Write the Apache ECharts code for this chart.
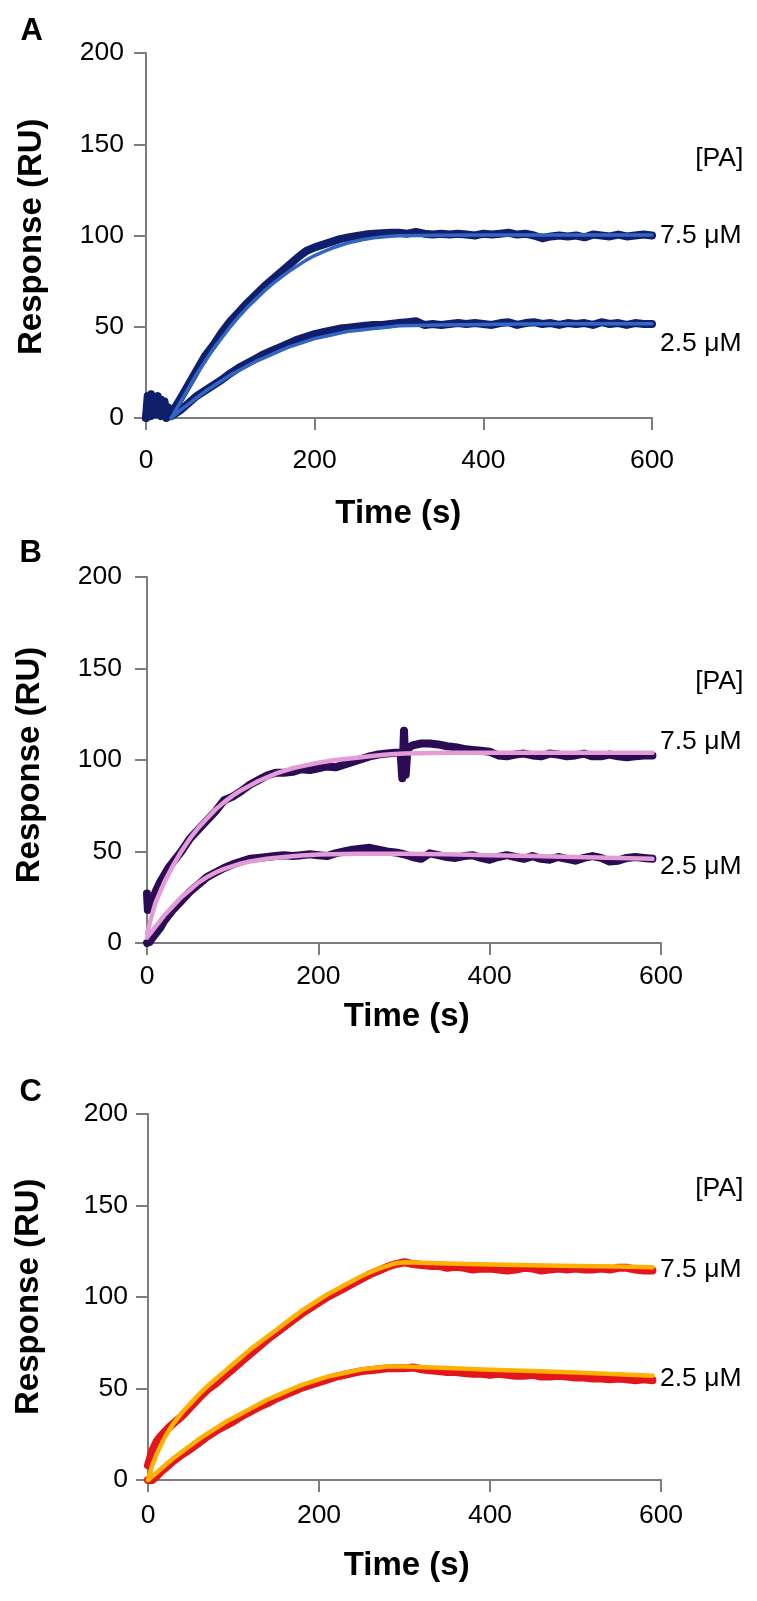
<!DOCTYPE html>
<html>
<head>
<meta charset="utf-8">
<script src="https://cdn.jsdelivr.net/npm/echarts@6/dist/echarts.min.js"></script>
<style>
html,body{margin:0;padding:0;background:#ffffff;}
#chart{width:757px;height:1601px;}
</style>
</head>
<body>
<div id="chart"></div>
<script>
// ---------- axis ranges / tick labels ----------
const xTickValues = [0, 200, 400, 600];
const yTickValues = [0, 50, 100, 150, 200];
const panelLetters = ['A', 'B', 'C'];
const concLabels = ['7.5 μM', '2.5 μM'];
const legendTitle = '[PA]';
const xTitle = 'Time (s)';
const yTitle = 'Response (RU)';

// ---------- Panel A (time s, response RU) ----------
const a75Data = [[0,0],[2,12],[4,3],[6,13],[8,2],[10,11],[12,4],[14,12],[16,3],[18,10],[20,2],[22,9],[24,2],[26,6],[28,1],
[30,2],[40,10],[50,18],[60,26],[70,34],[80,40],[90,47],[100,53],[110,58],[120,63],[130,67.5],[140,72],[150,76],[160,80],[170,84],[180,88],[190,91.5],[200,93.5],[210,95],[220,96.5],[230,98],[240,99],[250,99.8],[260,100.5],[270,101],[280,101.3],[290,101.5],
[300,101.5],[310,101],[320,102],[330,101],[340,100.5],[350,101],[360,100.5],[370,101],[380,100.5],[390,100],[400,101],
[410,100.5],[420,101],[430,101.5],[440,100.5],[450,101],[460,100],[470,98.5],[480,99.5],[490,100],[500,99.5],
[510,100],[520,99],[530,100.5],[540,100],[550,99.5],[560,100.5],[570,99.5],[580,100],[590,100.5],[600,100]];
const a75Fit = [[30,0],[40,8],[50,16],[60,24],[70,31],[80,38],[90,44],[100,50],[110,55.5],[120,60.5],[130,65],[140,69.5],[150,73.5],[160,77],[170,80.5],[180,83.5],[190,86.5],[200,89],[210,91],[220,93],[230,94.5],[240,96],[250,97],[260,98],[270,98.7],[280,99.2],[290,99.6],[300,99.9],[350,100.2],[400,100.3],[450,100.3],[500,100.3],[550,100.3],[600,100.3]];
const a25Data = [[0,0],[3,8],[6,1],[9,9],[12,2],[15,8],[18,1],[21,6],[24,0],[27,3],[30,1],[40,4],[50,8],[60,12],[70,15],[80,18],[90,21],[100,24.5],[110,27.5],[120,30],[130,32.5],[140,35],[150,37],[160,39],[170,41],[180,43],[190,44.5],[200,46],[210,47],[220,48],[230,49],[240,49.5],[250,50],[260,50.5],[270,51],[280,51],[290,51.5],
[300,52],[310,52.5],[320,53],[330,51],[340,51.5],[350,51],[360,51.5],[370,52],[380,51.5],[390,52],[400,51.5],[410,51],[420,52],[430,52.5],[440,51],[450,52],[460,52.5],[470,51.5],[480,52],[490,51],[500,52],[510,51.5],[520,52],[530,51],[540,52.5],[550,51.5],[560,52],[570,51],[580,52],[590,51.5],[600,51.5]];
const a25Fit = [[30,0],[40,4],[50,7.5],[60,11],[70,14.5],[80,17.5],[90,20.5],[100,23.5],[110,26],[120,28.5],[130,31],[140,33],[150,35],[160,37],[170,39],[180,40.5],[190,42],[200,43.5],[210,44.5],[220,45.5],[230,46.5],[240,47.5],[250,48],[260,48.5],[270,49],[280,49.5],[290,50],[300,50.5],[350,51],[400,51.3],[450,51.5],[500,51.6],[550,51.7],[600,51.7]];

// ---------- Panel B ----------
const b75Data = [[0,27],[1,18],[2,24],[4,20],[6,22],[8,25],[10,28],[15,33],[20,37],[25,41],[30,44],[40,50],[50,57],[60,62],[70,67],[80,72],[90,78],[100,80],[110,83],[120,86.5],[130,89],[140,91.5],[150,93],[160,93],[170,93.5],[180,95],[190,94.5],[200,95.5],[210,96.5],[220,96],[230,97.5],[240,99],[250,100.5],[260,102],[270,103],[280,103.5],[290,104],[296,104],[298,90],[300,116],[302,92],[304,106],
[310,108],[320,109],[330,109],[340,108.5],[350,107.5],[360,107],[370,106],[380,105.5],[390,105],[400,104.5],[410,102.5],[420,102],[430,103],[440,103.5],[450,102.5],[460,102],[470,103.5],[480,103],[490,102],[500,102.5],[510,103.5],[520,102],[530,102],[540,103],[550,102],[560,101.5],[570,102],[580,102.5],[590,102.5]];
const b75Fit = [[0,5],[5,14],[10,22],[20,33],[30,42],[40,50],[50,57],[60,63],[70,68],[80,73],[90,77],[100,80.5],[110,83.5],[120,86],[130,88.5],[140,90.5],[150,92.5],[160,94],[170,95.5],[180,96.5],[190,97.5],[200,98.5],[220,100],[240,101],[260,102],[280,103],[300,103.5],[350,104],[400,104],[450,104],[500,104],[550,104],[590,104]];
const b25Data = [[0,0],[3,0.5],[5,2],[10,5],[15,8],[20,12],[25,15],[30,18],[40,23],[50,28],[60,32],[70,36],[80,38.5],[90,41],[100,43],[110,44.5],[120,46],[130,46.5],[140,47],[150,47.5],[160,48],[170,47.5],[180,48],[190,48.5],[200,48],[210,47.5],[220,49],[230,50],[240,51],[250,51.5],[260,52],[270,51],[280,50],[290,49.5],[300,48.5],[310,47],[320,46],[330,49],[340,48],[350,47],[360,46.5],[370,47.5],[380,48],[390,46.5],[400,45.5],[410,47],[420,48],[430,47],[440,46],[450,47.5],[460,46],[470,45.5],[480,47],[490,46],[500,45],[510,46.5],[520,47.5],[530,46.5],[540,44.5],[550,45],[560,46.5],[570,47],[580,46.5],[590,46]];
const b25Fit = [[0,3],[10,9],[20,15],[30,20],[40,25],[50,29],[60,33],[70,36],[80,38.5],[90,40.5],[100,42],[110,43.5],[120,44.5],[140,46],[160,47],[180,47.8],[200,48.3],[250,48.8],[300,48.8],[350,48.5],[400,48],[450,47.5],[500,47],[550,46.5],[590,46]];

// ---------- Panel C ----------
const c75Data = [[0,8],[5,16],[10,21],[15,24],[20,26.5],[25,29],[30,31],[40,35],[50,40],[60,45],[70,49.5],[80,53],[90,57],[100,61],[110,65],[120,69],[130,73],[140,77],[150,80.5],[160,84],[170,87.5],[180,91],[190,94],[200,97],[210,100],[220,102.5],[230,105],[240,107.5],[250,110],[260,112.5],[270,114.5],[280,116.5],[290,118],[300,119],[310,118],[320,117.5],[330,117],[340,117],[350,116],[360,116.5],[370,116],[380,115],[390,115.5],[400,115.5],[410,115],[420,114.5],[430,115],[440,116],[450,115.5],[460,114.5],[470,115],[480,115.5],[490,115],[500,115.5],[510,115],[520,115],[530,115.5],[540,115],[550,116],[560,116],[570,115],[580,114.5],[590,114.5]];
const c75Fit = [[0,0],[5,8],[10,14],[15,19],[20,23.5],[25,27.5],[30,31],[40,37],[50,42],[60,47],[70,51.5],[80,55.5],[90,59.5],[100,63.5],[110,67.5],[120,71.5],[130,75],[140,78.5],[150,82],[160,85.5],[170,89],[180,92.5],[190,95.5],[200,98.5],[210,101.5],[220,104],[230,106.5],[240,109],[250,111.5],[260,113.5],[270,115.5],[280,117],[290,118.5],[300,119],[350,118.3],[400,117.8],[450,117.4],[500,117],[550,116.6],[590,116.3]];
const c25Data = [[0,0],[5,0],[10,2],[15,4.5],[20,6.5],[25,8.5],[30,10.5],[40,14],[50,17],[60,20.5],[70,24],[80,27],[90,29.5],[100,32],[110,35],[120,37.5],[130,40],[140,42],[150,44.5],[160,46.5],[170,48.5],[180,50.5],[190,52],[200,53.5],[210,55],[220,56.5],[230,57.5],[240,58.5],[250,59.5],[260,60],[270,60.5],[280,61],[290,61],[300,61],[310,61.5],[320,60.5],[330,60],[340,59.5],[350,59],[360,59],[370,58.5],[380,58],[390,58],[400,57.5],[410,58],[420,57.5],[430,57],[440,57],[450,57.5],[460,56.5],[470,56.5],[480,57],[490,56.5],[500,56],[510,56],[520,55.5],[530,55.5],[540,55],[550,55.5],[560,55],[570,54.5],[580,55],[590,54.5]];
const c25Fit = [[0,0],[10,4],[20,8],[30,12],[40,15.5],[50,19],[60,22.5],[70,25.5],[80,28.5],[90,31.5],[100,34],[110,36.5],[120,39],[130,41.5],[140,44],[150,46],[160,48],[170,50],[180,52],[190,53.5],[200,55],[210,56.5],[220,57.5],[230,58.5],[240,59.5],[250,60.5],[260,61],[270,61.5],[280,62],[290,62],[300,62],[350,61.2],[400,60.3],[450,59.5],[500,58.7],[550,57.8],[590,57]];

// ---------- layout / style ----------
const FONT = '"Liberation Sans", Arial, Helvetica, sans-serif';
const AXIS_GRAY = '#7d7d7d';
const panels = [
  { grid:{left:146, top:53,   width:506, height:365}, xMargin:29, yMargin:22,
    data:[a75Data,a25Data], fit:[a75Fit,a25Fit], dataColor:'#101f6c', fitColor:'#3366c2', dataW:8, fitW:3.5,
    letter:[31.7,31.7], yTitle:[31.7,236.7], xTitle:[398.3,514], pa:158.3, c75:236, c25:343.3 },
  { grid:{left:147, top:577,  width:514, height:366}, xMargin:20, yMargin:25,
    data:[b75Data,b25Data], fit:[b75Fit,b25Fit], dataColor:'#2c0b55', fitColor:'#e49cd6', dataW:8, fitW:4.5,
    letter:[30.8,553.3], yTitle:[30,765], xTitle:[406.7,1017], pa:681.7, c75:741.7, c25:866.7 },
  { grid:{left:148, top:1114, width:513, height:366}, xMargin:22, yMargin:20,
    data:[c75Data,c25Data], fit:[c75Fit,c25Fit], dataColor:'#e2161c', fitColor:'#ffb000', dataW:8, fitW:4.5,
    letter:[30.8,1092.5], yTitle:[29,1296.7], xTitle:[406.7,1566], pa:1189, c75:1270, c25:1378.3 }
];

const grids = [], xAxes = [], yAxes = [], series = [], graphics = [];
panels.forEach((p, i) => {
  grids.push(Object.assign({containLabel:false, show:false}, p.grid));
  xAxes.push({
    type:'value', gridIndex:i, min:xTickValues[0], max:xTickValues[xTickValues.length-1], interval:200,
    axisLine:{show:true, onZero:false, lineStyle:{color:AXIS_GRAY, width:2}},
    axisTick:{show:true, inside:false, length:12, lineStyle:{color:AXIS_GRAY, width:2}},
    splitLine:{show:false},
    axisLabel:{show:true, margin:p.xMargin, fontSize:26.5, color:'#000', fontFamily:FONT}
  });
  yAxes.push({
    type:'value', gridIndex:i, min:yTickValues[0], max:yTickValues[yTickValues.length-1], interval:50,
    axisLine:{show:true, onZero:false, lineStyle:{color:AXIS_GRAY, width:2}},
    axisTick:{show:true, inside:false, length:12, lineStyle:{color:AXIS_GRAY, width:2}},
    splitLine:{show:false},
    axisLabel:{show:true, margin:p.yMargin, fontSize:26.5, color:'#000', fontFamily:FONT}
  });
  p.data.forEach((d, k) => series.push({
    type:'line', name:concLabels[k], xAxisIndex:i, yAxisIndex:i, data:d,
    showSymbol:false, symbol:'none', silent:true, z:2,
    lineStyle:{color:p.dataColor, width:p.dataW, join:'round', cap:'round'}
  }));
  p.fit.forEach((d, k) => series.push({
    type:'line', name:concLabels[k] + ' fit', xAxisIndex:i, yAxisIndex:i, data:d,
    showSymbol:false, symbol:'none', silent:true, z:3,
    lineStyle:{color:p.fitColor, width:p.fitW, join:'round', cap:'round'}
  }));
  const txt = (text, x, y, size, weight, align, rot) => ({
    type:'text', x:x, y:y, rotation:rot || 0, silent:true,
    style:{text:text, fill:'#000', fontSize:size, fontWeight:weight, fontFamily:FONT,
      align:align, verticalAlign:'middle', textAlign:align, textVerticalAlign:'middle'}
  });
  graphics.push(txt(panelLetters[i], p.letter[0], p.letter[1], 31, 'bold', 'center'));
  graphics.push(txt(yTitle, p.yTitle[0], p.yTitle[1], 33, 'bold', 'center', Math.PI/2));
  graphics.push(txt(xTitle, p.xTitle[0], p.xTitle[1], 33, 'bold', 'center'));
  graphics.push(txt(legendTitle, 743.3, p.pa, 26.5, 'normal', 'right'));
  graphics.push(txt(concLabels[0], 660, p.c75, 26.5, 'normal', 'left'));
  graphics.push(txt(concLabels[1], 660, p.c25, 26.5, 'normal', 'left'));
});

const chart = echarts.init(document.getElementById('chart'), null, {renderer:'canvas'});
chart.setOption({
  backgroundColor:'#ffffff',
  animation:false,
  grid:grids, xAxis:xAxes, yAxis:yAxes, series:series,
  graphic:{elements:graphics}
});
</script>
</body>
</html>
